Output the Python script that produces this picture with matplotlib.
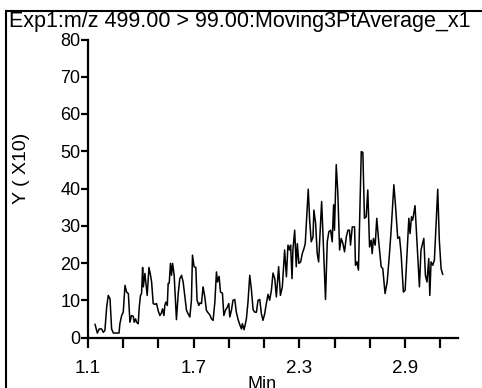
import numpy as np
import matplotlib.pyplot as plt
from matplotlib.patches import Rectangle

# retention time (min) and smoothed intensity (x10)
rt = [
    1.140, 1.153, 1.164, 1.177, 1.187, 1.196, 1.206, 1.215, 1.225, 1.234,
    1.244, 1.253, 1.262, 1.276, 1.281, 1.291, 1.300, 1.310, 1.319, 1.329,
    1.338, 1.347, 1.357, 1.362, 1.370, 1.376, 1.385, 1.391, 1.398, 1.404,
    1.410, 1.414, 1.423, 1.429, 1.436, 1.446, 1.455, 1.461, 1.470, 1.480,
    1.489, 1.499, 1.508, 1.517, 1.523, 1.531, 1.536, 1.542, 1.550, 1.555,
    1.561, 1.568, 1.574, 1.580, 1.589, 1.597, 1.602, 1.612, 1.621, 1.631,
    1.640, 1.650, 1.659, 1.668, 1.678, 1.687, 1.693, 1.702, 1.712, 1.719,
    1.729, 1.735, 1.744, 1.753, 1.763, 1.772, 1.782, 1.791, 1.801, 1.810,
    1.820, 1.829, 1.835, 1.844, 1.852, 1.863, 1.871, 1.880, 1.889, 1.899,
    1.905, 1.914, 1.923, 1.933, 1.942, 1.952, 1.961, 1.971, 1.976, 1.986,
    1.999, 2.008, 2.018, 2.027, 2.037, 2.046, 2.056, 2.065, 2.075, 2.084,
    2.093, 2.103, 2.112, 2.122, 2.131, 2.141, 2.150, 2.160, 2.169, 2.182,
    2.192, 2.203, 2.216, 2.226, 2.235, 2.244, 2.250, 2.258, 2.263, 2.273,
    2.282, 2.288, 2.297, 2.307, 2.316, 2.326, 2.333, 2.350, 2.358, 2.367,
    2.377, 2.382, 2.392, 2.401, 2.409, 2.426, 2.433, 2.448, 2.458, 2.467,
    2.477, 2.486, 2.494, 2.499, 2.509, 2.518, 2.528, 2.537, 2.547, 2.556,
    2.566, 2.575, 2.584, 2.590, 2.600, 2.613, 2.618, 2.626, 2.635, 2.651,
    2.660, 2.669, 2.679, 2.688, 2.698, 2.707, 2.713, 2.720, 2.730, 2.739,
    2.751, 2.764, 2.773, 2.786, 2.798, 2.811, 2.820, 2.836, 2.845, 2.858,
    2.868, 2.877, 2.890, 2.900, 2.909, 2.921, 2.928, 2.936, 2.943, 2.956,
    2.968, 2.981, 2.990, 3.006, 3.015, 3.024, 3.034, 3.040, 3.047, 3.057,
    3.066, 3.085, 3.094, 3.104, 3.113,
]
intensity = [
    3.5, 1.2, 2.3, 2.3, 1.4, 1.9, 8.2, 11.3, 10.4, 2.3,
    1.2, 1.2, 1.2, 1.2, 3.7, 5.9, 6.8, 14.0, 12.2, 11.8,
    4.1, 5.9, 5.7, 4.1, 5.0, 4.1, 3.7, 8.2, 11.3, 11.8,
    18.8, 13.6, 17.2, 14.5, 11.3, 18.8, 16.7, 14.9, 9.1, 8.9,
    9.1, 7.1, 5.9, 6.6, 7.7, 5.9, 8.6, 9.5, 8.6, 14.5,
    14.6, 19.9, 16.7, 19.9, 16.7, 9.1, 4.8, 11.8, 15.8, 16.7,
    14.9, 10.9, 7.3, 6.4, 5.5, 10.0, 22.1, 19.0, 18.8, 10.0,
    8.6, 9.3, 9.1, 13.6, 10.9, 7.3, 6.6, 6.1, 5.0, 4.6,
    9.5, 17.6, 14.9, 16.4, 12.2, 11.9, 5.9, 7.3, 8.0, 9.1,
    5.5, 7.3, 10.0, 10.2, 6.8, 4.8, 3.5, 2.3, 3.7, 2.1,
    5.0, 9.5, 16.7, 13.1, 7.5, 6.8, 6.8, 10.0, 10.2, 6.4,
    4.6, 6.4, 9.1, 11.6, 10.0, 12.7, 17.3, 15.8, 10.9, 19.0,
    11.3, 13.6, 23.5, 16.3, 24.8, 23.5, 24.8, 15.8, 23.5, 28.8,
    19.0, 25.2, 19.9, 20.3, 22.5, 23.9, 25.2, 39.8, 31.5, 25.7,
    27.0, 34.2, 30.6, 22.5, 20.3, 36.5, 28.4, 10.2, 25.7, 28.4,
    28.8, 25.7, 35.6, 28.8, 46.4, 38.7, 23.5, 26.6, 25.2, 23.0,
    27.0, 28.8, 28.8, 24.8, 29.7, 29.7, 19.4, 20.3, 18.1, 49.9,
    49.7, 32.0, 32.4, 39.6, 24.3, 26.1, 22.5, 26.6, 24.8, 32.0,
    25.2, 19.0, 18.5, 11.8, 14.9, 22.5, 28.4, 41.0, 35.6, 26.6,
    27.0, 22.5, 12.2, 12.7, 21.2, 32.0, 27.9, 32.4, 31.5, 35.4,
    24.8, 13.6, 23.5, 26.6, 16.7, 14.9, 21.2, 11.3, 20.3, 19.4,
    20.8, 39.8, 26.1, 18.5, 17.0,
]

x_ticks = [1.1, 1.3, 1.5, 1.7, 1.9, 2.1, 2.3, 2.5, 2.7, 2.9, 3.1]
x_labels = ["1.1", "", "", "1.7", "", "", "2.3", "", "", "2.9", ""]
y_ticks = [0, 10, 20, 30, 40, 50, 60, 70, 80]

title = "Exp1:m/z 499.00 > 99.00:Moving3PtAverage_x1"

plt.rcParams['font.family'] = ['Liberation Sans', 'DejaVu Sans']

W, H = 482, 388
fig = plt.figure(figsize=(W / 100, H / 100), dpi=100)

# outer frame, runs off the right and bottom edges
fig.patches.append(Rectangle((6 / W, -0.2), 1.2, 1 - 11 / H + 0.2,
                             transform=fig.transFigure, fill=False,
                             edgecolor='black', linewidth=1.5))

ax = fig.add_axes([88 / W, 1 - 337.5 / H, 370 / W, 298 / H])
ax.plot(rt, intensity, color='black', linewidth=1.1)

ax.set_xlim(1.1, 3.2)
ax.set_ylim(0, 80)
ax.set_xticks(x_ticks)
ax.set_xticklabels(x_labels)
ax.set_yticks(y_ticks)

for s in ['top', 'right']:
    ax.spines[s].set_visible(False)
for s in ['left', 'bottom']:
    ax.spines[s].set_linewidth(1.6)
ax.tick_params(axis='x', direction='out', length=7, width=1.6, pad=9,
               labelsize=13.5)
ax.tick_params(axis='y', direction='out', length=5, width=1.6, pad=0.5,
               labelsize=13)

fig.text(9 / W, 1 - 22 / H, title, fontsize=15.5, ha='left', va='center')
fig.text(22 / W, 1 - 168 / H, "Y ( X10)", fontsize=14, rotation=90,
         ha='center', va='center')
fig.text(262 / W, 1 - 389 / H, "Min", fontsize=13, ha='center',
         va='baseline')

fig.savefig("out.png", dpi=100)
